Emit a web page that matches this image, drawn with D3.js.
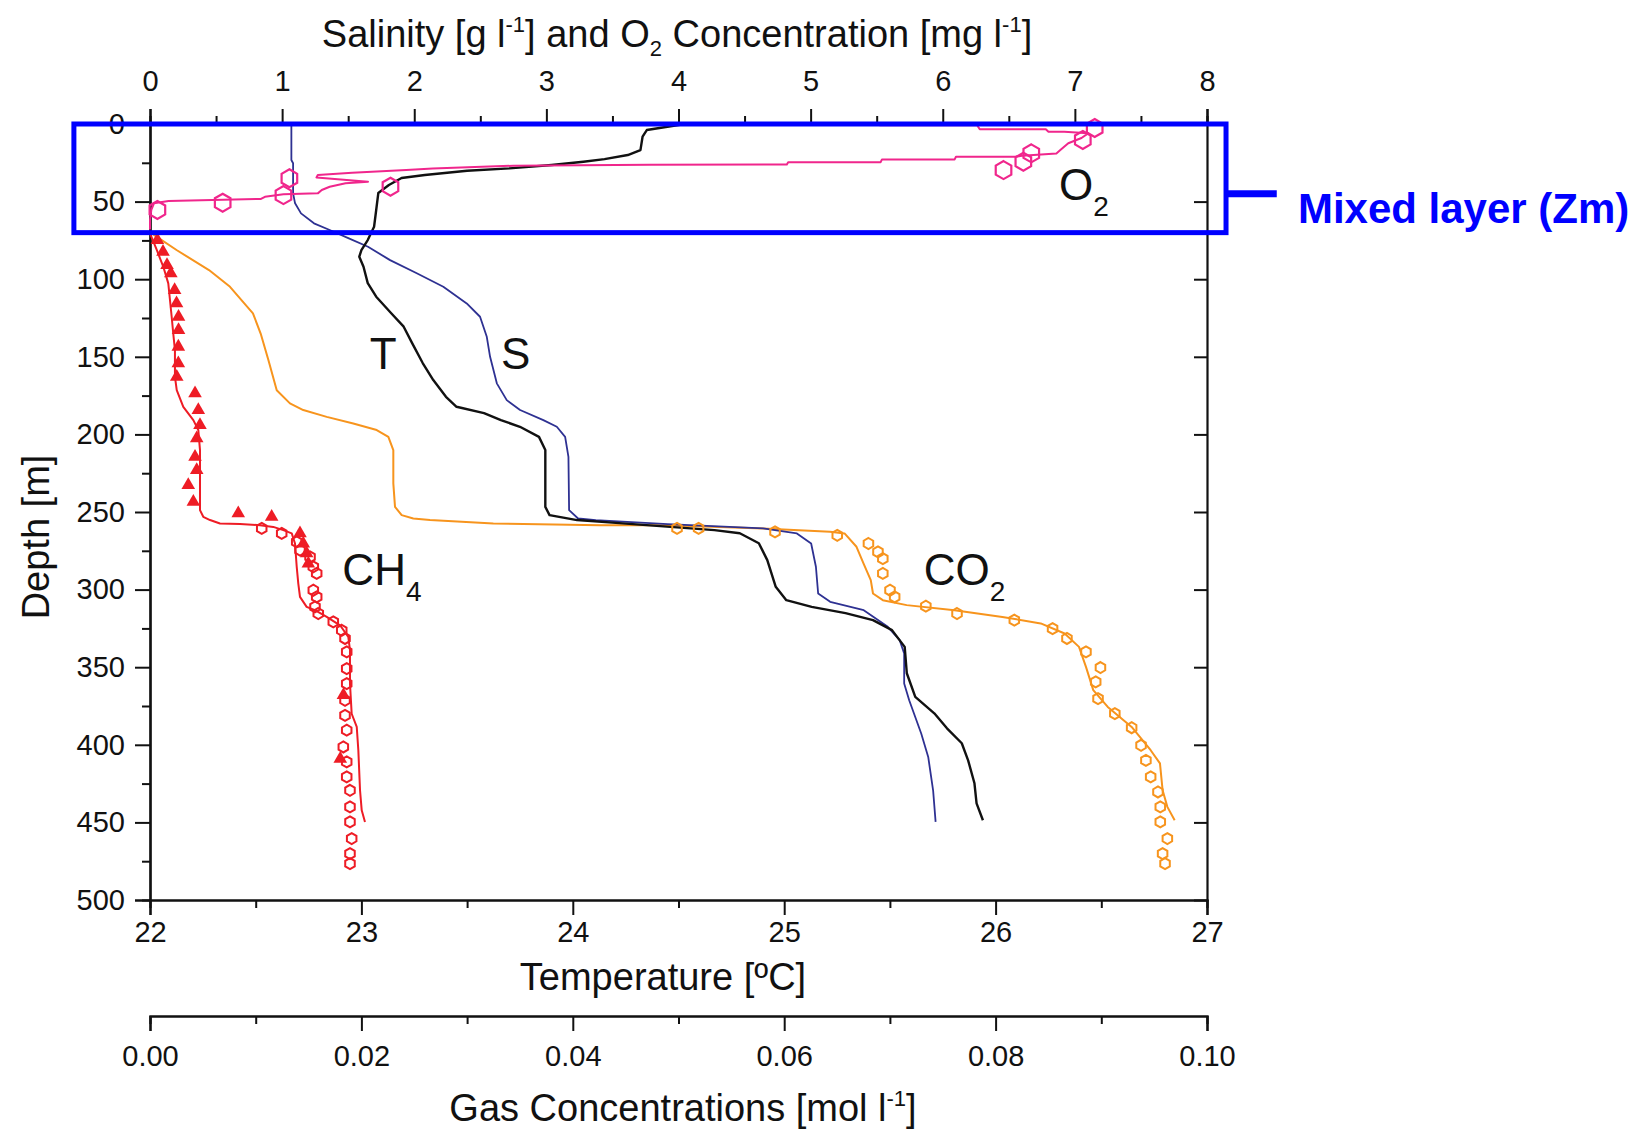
<!DOCTYPE html>
<html>
<head>
<meta charset="utf-8">
<script src="https://cdn.jsdelivr.net/npm/d3@7"></script>
<style>
  body { margin: 0; background: #fff; }
  text { font-family: "Liberation Sans", Arial, Helvetica, sans-serif; fill: #111; }
</style>
</head>
<body>
<script>
// tick values
var depthTicks = [0, 50, 100, 150, 200, 250, 300, 350, 400, 450, 500];
var depthMinor = [25, 75, 125, 175, 225, 275, 325, 375, 425, 475];
var topTicks = [0, 1, 2, 3, 4, 5, 6, 7, 8];
var topMinor = [0.5, 1.5, 2.5, 3.5, 4.5, 5.5, 6.5, 7.5];
var tempTicks = [22, 23, 24, 25, 26, 27];
var tempMinor = [22.5, 23.5, 24.5, 25.5, 26.5];
var gasTicks = [0, 0.02, 0.04, 0.06, 0.08, 0.1];
var gasMinor = [0.01, 0.03, 0.05, 0.07, 0.09];

// temperature profile [degC, depth m]
var tempProfile = [[24.53,0],[24.35,3.9],[24.33,8.2],[24.32,16.8],[24.26,20],[24.15,22.6],[24.05,24.3],
  [23.90,26.4],[23.70,28.6],[23.50,30.1],[23.30,32.9],[23.19,34.8],[23.13,39.3],[23.08,44.5],[23.07,55.4],
  [23.06,66.2],[23.03,74.8],[23.00,81.2],[22.99,85.5],[23.01,92],[23.03,102.5],[23.07,111.3],[23.14,121.8],
  [23.20,130.6],[23.24,141.2],[23.29,154],[23.34,165],[23.40,175.8],[23.45,182.2],[23.58,186.3],[23.66,190.8],
  [23.75,195.1],[23.84,201.6],[23.87,210.1],[23.87,231.4],[23.87,246.7],[23.89,252],[24.02,255.2],[24.22,257.2],
  [24.67,261.7],[24.79,263.7],[24.88,270.1],[24.92,281],[24.96,298.2],[25.01,306.8],[25.13,311.1],[25.29,315.2],
  [25.42,319.7],[25.51,326.1],[25.57,336.9],[25.58,353.9],[25.62,369.1],[25.71,379.7],[25.77,389.4],[25.84,399],
  [25.87,410],[25.90,424.8],[25.91,437.7],[25.94,448.6]];

// salinity profile [g/l, depth m]
var salProfile = [[1.07,0],[1.07,23.2],[1.083,25.3],[1.083,44.7],[1.098,51.1],[1.143,57.6],[1.241,64],[1.36,68.3],
  [1.505,73.7],[1.65,79.1],[1.817,87.7],[2.019,96.2],[2.22,104.9],[2.397,115.6],[2.498,124.2],[2.549,137.1],
  [2.574,150],[2.625,167.1],[2.70,177.9],[2.801,184.3],[2.977,190.8],[3.079,195.1],[3.142,201.6],[3.167,214.5],
  [3.172,248.8],[3.24,254.2],[3.374,255.3],[3.918,257.8],[4.64,260.6],[4.896,263.8],[5.004,270.3],[5.04,285.3],
  [5.057,302.5],[5.148,307.9],[5.402,313.3],[5.584,324],[5.674,332.6],[5.708,341.2],[5.708,360.5],[5.746,371.3],
  [5.837,392.7],[5.89,407.8],[5.927,429.3],[5.946,449.7]];

// O2 sensor profile [mg/l, depth m]
var o2Profile = [[5.52,0.8],[6.26,0.8],[6.28,3.4],[6.78,3.4],[6.80,5],[6.92,5],[7.10,6],[7.05,9],[6.95,12.4],
  [6.89,16.8],[6.86,19],[6.60,20.5],[6.55,21.1],[6.10,21.1],[6.09,22.8],[5.54,22.8],[5.53,24.6],[4.83,24.6],
  [4.82,26.1],[3.78,26.3],[2.75,26.9],[2.14,28.6],[1.94,29.7],[1.53,31.4],[1.27,32.9],[1.26,34.4],[1.65,37.2],
  [1.48,38.2],[1.36,40.4],[1.30,42.5],[1.27,44.7],[1.01,45.3],[0.87,46.9],[0.84,48.3],[0.14,49.6],[0.03,51.1],
  [0.01,55.4],[0,61.9],[0,68]];
// O2 bottle samples
var o2Samples = [[7.15,2.6],[7.06,10.3],[6.67,18.9],[6.61,24.3],[6.46,29.7],[1.82,40.4],[1.055,35],[1.01,45.8],
  [0.55,50.7],[0.056,55.4]];

// CH4 [mol/l, depth m]
var ch4Profile = [[0,70.5],[0.00063,81],[0.00126,92],[0.00173,102.7],[0.00189,113.4],[0.00205,124.2],[0.0022,135],
  [0.00236,145.7],[0.00236,162.9],[0.00253,171.5],[0.00315,182.2],[0.0041,190.8],[0.00457,197.2],[0.00473,210.1],
  [0.00473,248.8],[0.00504,253.1],[0.00568,255.2],[0.00662,257.4],[0.00851,257.8],[0.01041,258.5],[0.01166,259.6],
  [0.01261,261.7],[0.01341,263.8],[0.01372,270.3],[0.01388,285.3],[0.01403,296.1],[0.01419,304.7],[0.01482,311.1],
  [0.01561,313.3],[0.01672,317.6],[0.01798,323],[0.01876,330.5],[0.01892,339],[0.01892,360.6],[0.01908,380],
  [0.01956,388.5],[0.01971,403.5],[0.01987,429.3],[0.02003,442.2],[0.02034,449.7]];
var ch4Triangles = [[0.0007,74.8],[0.00123,82.3],[0.00161,90.9],[0.00197,96.2],[0.00233,107],[0.00251,115.6],
  [0.0027,124.2],[0.0027,132.8],[0.00268,143.5],[0.00268,154.2],[0.00253,162.9],[0.00426,173.6],[0.00457,184.3],
  [0.00473,194],[0.00442,202.6],[0.00426,214.5],[0.00442,223],[0.00362,232.7],[0.0041,243.5],[0.00835,250.9],
  [0.01151,253.1],[0.01419,263.8],[0.0145,270.3],[0.01482,276.7],[0.01498,283.2],[0.0183,368],[0.018,409]];
var ch4Hexes = [[0.01057,260.6],[0.01246,263.8],[0.01388,269.2],[0.01419,274.6],[0.01514,278.9],[0.01545,285.3],
  [0.01577,289.6],[0.01545,300.4],[0.01577,304.7],[0.01561,311.1],[0.01592,315.4],[0.01734,320.8],[0.01814,326.2],
  [0.01845,331.5],[0.01861,340.1],[0.01861,350.9],[0.01861,360.6],[0.01845,371.3],[0.01845,381],[0.01861,390.6],
  [0.01829,401.4],[0.01861,411],[0.01861,420.7],[0.01892,429.3],[0.01892,440],[0.01892,449.7],[0.01908,460.4],
  [0.01892,470.1],[0.01892,476.6]];

// CO2 [mol/l, depth m]
var co2Profile = [[0.00016,70.5],[0.00251,81.2],[0.00558,94.1],[0.00757,104.9],[0.00974,122],[0.01047,135],
  [0.0112,152.1],[0.01199,171.5],[0.01324,180],[0.0145,184.3],[0.01672,188.7],[0.01923,193],[0.02145,197.2],
  [0.02255,201.6],[0.02302,210.1],[0.02302,231.6],[0.02318,246.7],[0.02381,252],[0.02491,254.2],[0.02649,255.2],
  [0.03248,257.4],[0.04257,258.5],[0.04896,258.5],[0.058,260.6],[0.06433,262.8],[0.06571,263.8],[0.06684,272.4],
  [0.06751,283.2],[0.06819,293.9],[0.0684,302.5],[0.06933,306.8],[0.07159,310],[0.07611,313.3],[0.08064,317.6],
  [0.08427,321.8],[0.08653,328.3],[0.08789,336.9],[0.08855,349.8],[0.08924,364.8],[0.09061,375.6],[0.09287,388.5],
  [0.09467,403.5],[0.09555,412],[0.0958,429.3],[0.09625,440],[0.09694,448.6]];
var co2Hexes = [[0.04986,260.6],[0.0519,260.6],[0.05913,262.8],[0.06502,265],[0.06797,270.3],[0.06887,275.7],
  [0.06933,280],[0.06933,289.6],[0.07001,300.4],[0.07045,304.7],[0.0734,310.7],[0.07635,315.4],[0.08177,319.7],
  [0.08539,325.1],[0.08675,331.5],[0.08855,340.1],[0.08992,350.2],[0.08947,359.5],[0.08969,370.2],[0.09128,379.9],
  [0.09287,389],[0.09376,400.3],[0.09422,410],[0.09467,420.7],[0.09536,430.4],[0.09558,440],[0.09558,449.7],
  [0.09625,460.4],[0.0958,470.1],[0.09603,476.6]];

var mixedLayer = [0, 70];

var W = 1646, H = 1133;
var svg = d3.select("body").append("svg")
    .attr("width", W)
    .attr("height", H);

var xT = d3.scaleLinear().domain([22, 27]).range([150, 1207]);
var xS = d3.scaleLinear().domain([0, 8]).range([150, 1207]);
var xG = d3.scaleLinear().domain([0, 0.1]).range([150, 1207]);
var y = d3.scaleLinear().domain([0, 500]).range([124, 900]);

function styleAxis(g, fs){
    g.selectAll("path.domain").attr("stroke", "#111").attr("stroke-width", 2.2);
    g.selectAll(".tick line").attr("stroke", "#111").attr("stroke-width", 2);
    g.selectAll(".tick text").attr("font-size", fs).attr("fill", "#111")
        .attr("font-family", "Liberation Sans, Arial, sans-serif");
}

// minor ticks first
svg.append("g").attr("transform", "translate(150,0)")
    .call(d3.axisLeft(y).tickValues(depthMinor).tickSize(8).tickFormat("")).call(styleAxis, 29);
svg.append("g").attr("transform", "translate(0,124)")
    .call(d3.axisTop(xS).tickValues(topMinor).tickSize(8).tickFormat("")).call(styleAxis, 29);
svg.append("g").attr("transform", "translate(0,900)")
    .call(d3.axisBottom(xT).tickValues(tempMinor).tickSize(8).tickFormat("")).call(styleAxis, 29);
svg.append("g").attr("transform", "translate(0,1016)")
    .call(d3.axisBottom(xG).tickValues(gasMinor).tickSize(8).tickFormat("")).call(styleAxis, 29);

// major axes
svg.append("g").attr("transform", "translate(150,0)")
    .call(d3.axisLeft(y).tickValues(depthTicks).tickSize(15).tickPadding(10).tickFormat(d3.format("d")))
    .call(styleAxis, 29);
svg.append("g").attr("transform", "translate(1207,0)")
    .call(d3.axisRight(y).tickValues(depthTicks.slice(1, -1)).tickSize(-13).tickFormat(""))
    .call(styleAxis, 29);
svg.append("g").attr("transform", "translate(0,124)")
    .call(d3.axisTop(xS).tickValues(topTicks).tickSize(15).tickPadding(18).tickFormat(d3.format("d")))
    .call(styleAxis, 29);
svg.append("g").attr("transform", "translate(0,900)")
    .call(d3.axisBottom(xT).tickValues(tempTicks).tickSize(15).tickPadding(6).tickFormat(d3.format("d")))
    .call(styleAxis, 29);
svg.append("g").attr("transform", "translate(0,1016)")
    .call(d3.axisBottom(xG).tickValues(gasTicks).tickSize(15).tickPadding(14).tickFormat(d3.format(".2f")))
    .call(styleAxis, 29);

// axis titles
var topTitle = svg.append("text").attr("x", 677).attr("y", 47)
    .attr("text-anchor", "middle").attr("font-size", 38);
topTitle.append("tspan").text("Salinity [g l");
topTitle.append("tspan").attr("font-size", 22).attr("dy", -15).text("-1");
topTitle.append("tspan").attr("dy", 15).text("] and O");
topTitle.append("tspan").attr("font-size", 22).attr("dy", 9).text("2");
topTitle.append("tspan").attr("dy", -9).text(" Concentration [mg l");
topTitle.append("tspan").attr("font-size", 22).attr("dy", -15).text("-1");
topTitle.append("tspan").attr("dy", 15).text("]");

svg.append("text").attr("x", 663).attr("y", 990)
    .attr("text-anchor", "middle").attr("font-size", 38)
    .text("Temperature [ºC]");

var gasTitle = svg.append("text").attr("x", 683).attr("y", 1121)
    .attr("text-anchor", "middle").attr("font-size", 38);
gasTitle.append("tspan").text("Gas Concentrations [mol l");
gasTitle.append("tspan").attr("font-size", 22).attr("dy", -15).text("-1");
gasTitle.append("tspan").attr("dy", 15).text("]");

svg.append("text")
    .attr("transform", "translate(49,537) rotate(-90)")
    .attr("text-anchor", "middle").attr("font-size", 38)
    .text("Depth [m]");

// profiles
function drawLine(data, xs, color, width){
    svg.append("path")
        .datum(data)
        .attr("fill", "none")
        .attr("stroke", color)
        .attr("stroke-width", width)
        .attr("stroke-linejoin", "round")
        .attr("d", d3.line()
            .x(function(d){ return xs(d[0]); })
            .y(function(d){ return y(d[1]); }));
}

var cRed = "#ee1c25", cOrange = "#f7941d", cPink = "#f0268c", cBlue = "#2e3192";

drawLine(ch4Profile, xG, cRed, 2);
drawLine(co2Profile, xG, cOrange, 2);
drawLine(salProfile, xS, cBlue, 1.8);
drawLine(tempProfile, xT, "#111", 2.4);
drawLine(o2Profile, xS, cPink, 2);

function hexPath(r){
    var pts = [];
    for (var k = 0; k < 6; k++){
        var a = Math.PI / 180 * (60 * k - 90);
        pts.push([r * Math.cos(a), r * Math.sin(a)]);
    }
    return "M" + pts.join("L") + "Z";
}

function drawHexes(data, xs, color, r, sw){
    svg.selectAll(null)
        .data(data)
        .enter()
        .append("path")
        .attr("transform", function(d){ return "translate(" + xs(d[0]) + "," + y(d[1]) + ")"; })
        .attr("d", hexPath(r))
        .attr("fill", "none")
        .attr("stroke", color)
        .attr("stroke-width", sw);
}

drawHexes(ch4Hexes, xG, cRed, 5.5, 2);
drawHexes(co2Hexes, xG, cOrange, 5.5, 2);
drawHexes(o2Samples, xS, cPink, 9, 2.2);

svg.selectAll(".tri")
    .data(ch4Triangles)
    .enter()
    .append("path")
    .attr("class", "tri")
    .attr("transform", function(d){ return "translate(" + xG(d[0]) + "," + y(d[1]) + ")"; })
    .attr("d", d3.symbol().type(d3.symbolTriangle).size(80))
    .attr("fill", cRed);

// series labels
function seriesLabel(t, sub, temp, depth){
    var lab = svg.append("text")
        .attr("x", xT(temp)).attr("y", y(depth))
        .attr("font-size", 44).attr("fill", "#111");
    lab.append("tspan").text(t);
    if (sub) lab.append("tspan").attr("font-size", 28).attr("dy", 16).text(sub);
}
seriesLabel("T", null, 23.04, 158);
seriesLabel("S", null, 23.66, 158);
seriesLabel("O", "2", 26.30, 48.7);
seriesLabel("CH", "4", 22.91, 297);
seriesLabel("CO", "2", 25.66, 297);

// mixed layer box
svg.append("rect")
    .attr("x", xT(21.64))
    .attr("y", y(mixedLayer[0]))
    .attr("width", xT(27.09) - xT(21.64))
    .attr("height", y(mixedLayer[1]) - y(mixedLayer[0]))
    .attr("fill", "none")
    .attr("stroke", "#0000ff")
    .attr("stroke-width", 5);

svg.append("line")
    .attr("x1", xT(27.09)).attr("x2", xT(27.33))
    .attr("y1", y(45)).attr("y2", y(45))
    .attr("stroke", "#0000ff")
    .attr("stroke-width", 7);

svg.append("text")
    .attr("x", xT(27.43)).attr("y", y(63.6))
    .attr("font-size", 42).attr("font-weight", "bold")
    .style("fill", "#0000ff")
    .text("Mixed layer (Zm)");
</script>
</body>
</html>
